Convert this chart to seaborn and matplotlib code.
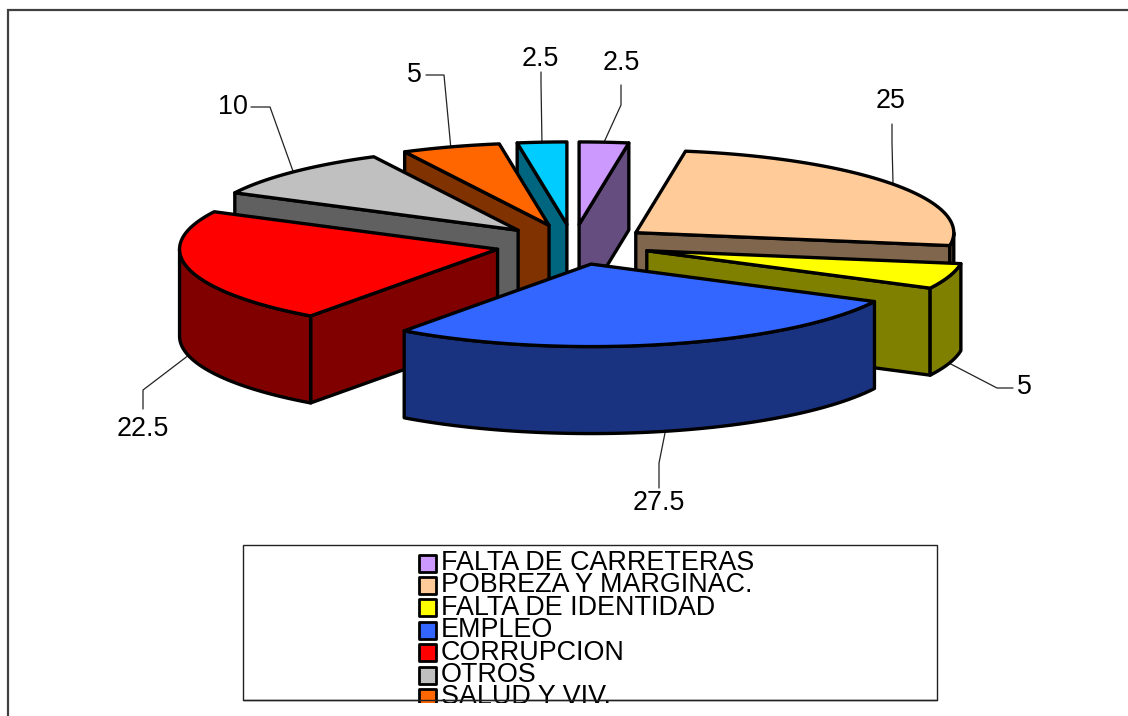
import numpy as np
import matplotlib
matplotlib.use('Agg')
import matplotlib.pyplot as plt
from matplotlib.patches import Polygon, Rectangle
import seaborn as sns

# clockwise from the top, as in the original chart
values = [2.5, 25, 5, 27.5, 22.5, 10, 5, 2.5]
value_labels = ['2.5', '25', '5', '27.5', '22.5', '10', '5', '2.5']
categories = ['FALTA DE CARRETERAS', 'POBREZA Y MARGINAC.', 'FALTA DE IDENTIDAD',
              'EMPLEO', 'CORRUPCION', 'OTROS', 'SALUD Y VIV.']
colors = ['#CC99FF', '#FFCC99', '#FFFF00', '#3366FF', '#FF0000', '#C0C0C0', '#FF6600', '#00CCFF']

# leader elbow and label position for each slice, in pixels
elbows = [[(621, 105), (621, 85)], [(892, 143), (892, 124)], [(997, 388), (1013, 388)],
          [(659, 463), (659, 488)], [(143, 390), (143, 409)], [(270, 107), (251, 107)],
          [(444, 75), (426, 75)], [(541, 83), (541, 72)]]
label_pos = [(621, 63.5), (891, 101.5), (1024, 387.5), (659, 502.5), (143, 429.5), (233, 106.5), (414, 75.5), (540, 59.5)]

CX, CY = 573, 244.5
RX, RY = 318, 82.5
DEPTH = 87
EXPLODE = 0.244
DRAW_ORDER = [0, 7, 6, 5, 1, 2, 4, 3]
LW = 2.4


def rim(theta, ax0, ay0):
    t = np.radians(theta)
    return ax0 + RX * np.sin(t), ay0 - RY * np.cos(t)


def draw_slice(ax, start, end, color):
    mid = (start + end) / 2
    ax0 = CX + EXPLODE * RX * np.sin(np.radians(mid))
    ay0 = CY - EXPLODE * RY * np.cos(np.radians(mid))
    dark = tuple(c * 0.5 for c in matplotlib.colors.to_rgb(color))
    style = dict(edgecolor='black', linewidth=LW, joinstyle='round')

    # cut faces turned to the viewer
    if np.sin(np.radians(start)) < 0:
        face = start
    elif np.sin(np.radians(end)) > 0:
        face = end
    else:
        face = None
    if face is not None:
        px, py = rim(face, ax0, ay0)
        ax.add_patch(Polygon([(ax0, ay0), (px, py), (px, py + DEPTH), (ax0, ay0 + DEPTH)],
                             facecolor=dark, **style))

    # outer wall, front half only
    lo, hi = max(start, 90), min(end, 270)
    if lo < hi:
        th = np.linspace(lo, hi, 60)
        xs, ys = rim(th, ax0, ay0)
        pts = list(zip(xs, ys)) + list(zip(xs[::-1], ys[::-1] + DEPTH))
        ax.add_patch(Polygon(pts, facecolor=dark, **style))

    th = np.linspace(start, end, 80)
    xs, ys = rim(th, ax0, ay0)
    ax.add_patch(Polygon([(ax0, ay0)] + list(zip(xs, ys)), facecolor=color, **style))

    # leader anchor on the rim
    px, py = rim(mid, ax0, ay0)
    if np.cos(np.radians(mid)) < 0:
        py += DEPTH
    return px, py


sns.set_theme(style='white')
plt.rcParams['font.family'] = ['Liberation Sans', 'DejaVu Sans']

fig, ax = plt.subplots(figsize=(11.28, 7.16), dpi=100)
fig.subplots_adjust(left=0, right=1, top=1, bottom=0)
ax.set_xlim(0, 1128)
ax.set_ylim(716, 0)
ax.axis('off')

edges = np.concatenate([[0], np.cumsum(values)]) * 360 / sum(values)
anchors = {}
for i in DRAW_ORDER:
    anchors[i] = draw_slice(ax, edges[i], edges[i + 1], colors[i])

for i, label in enumerate(value_labels):
    pts = [anchors[i]] + elbows[i]
    ax.plot([p[0] for p in pts], [p[1] for p in pts], color='#222222', lw=0.9, zorder=0.5)
    ax.text(label_pos[i][0], label_pos[i][1], label, fontsize=19.4, color='black',
            ha='center', va='center')

# legend box, its last rows run off the bottom as in the original
ax.add_patch(Rectangle((243, 545), 694, 155, facecolor='white', edgecolor='#222222', lw=1, zorder=3))
for i, name in enumerate(categories):
    y = 563 + i * 22.4
    ax.add_patch(Rectangle((418.5, y - 8.5), 17, 17, facecolor=colors[i], edgecolor='black',
                           lw=2, joinstyle='round', zorder=4))
    ax.text(441, y, name, fontsize=19.4, color='black', ha='left', va='center', zorder=4)
ax.add_patch(Rectangle((0, 703), 1128, 13, facecolor='white', edgecolor='none', zorder=5))
ax.plot([243, 937], [700, 700], color='#222222', lw=1, zorder=6)

# outer frame
ax.plot([7.5, 7.5, 1128], [716, 10, 10], color='#404040', lw=1.6, zorder=6, solid_joinstyle='miter')

fig.savefig('out.png', dpi=100)
